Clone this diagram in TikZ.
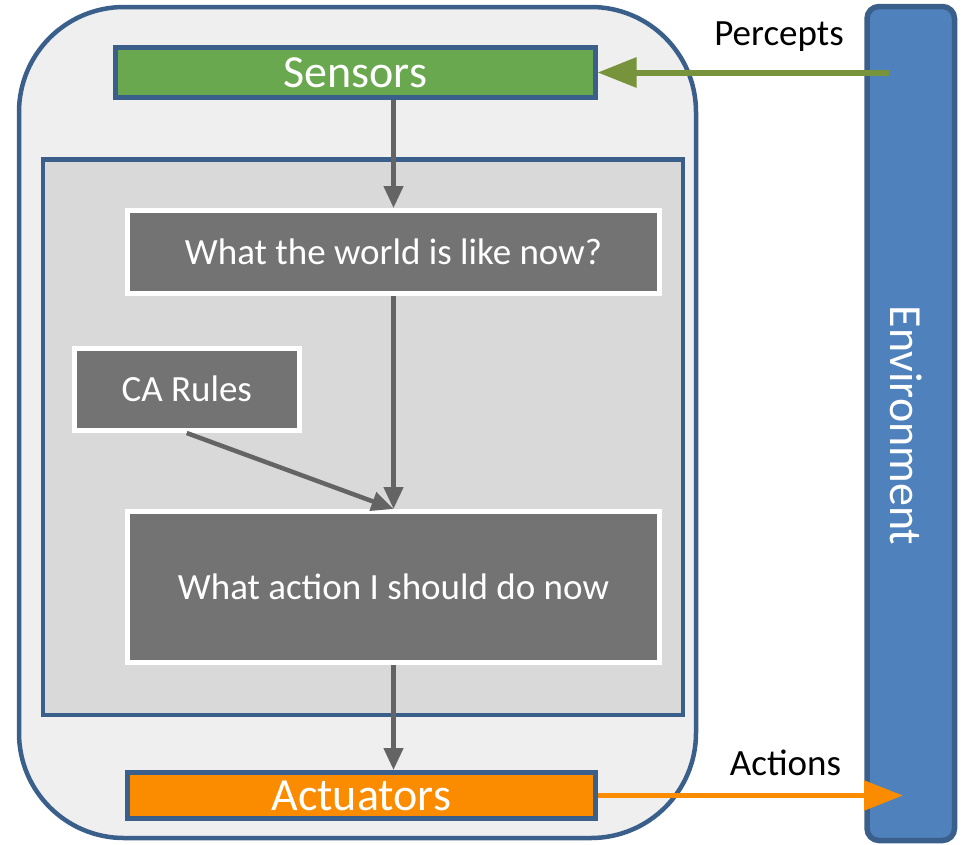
\documentclass[tikz,border=0pt]{standalone}
\usepackage{fontspec}
\setmainfont{Carlito}
\usetikzlibrary{arrows.meta}
\definecolor{bordblue}{HTML}{3A5F8B}
\definecolor{outerfill}{HTML}{EFEFEF}
\definecolor{innerfill}{HTML}{D9D9D9}
\definecolor{boxgray}{HTML}{737373}
\definecolor{sensgreen}{HTML}{6AA84F}
\definecolor{actorange}{HTML}{FB8C00}
\definecolor{envblue}{HTML}{4F81BD}
\definecolor{percol}{HTML}{77933C}
\definecolor{arrgray}{HTML}{646464}
\tikzset{
  every node/.style={inner sep=0pt},
  bigtext/.style={font=\fontsize{46}{50}\selectfont, text=white},
  bodytext/.style={font=\fontsize{37}{40}\selectfont},
  bar/.style={draw=bordblue, line width=5pt},
  graybox/.style={draw=white, line width=5pt, fill=boxgray, text=white, bodytext},
  grayarrow/.style={draw=arrgray, line width=4.5pt, -{Triangle[length=22pt,width=19pt]}},
  bigarrow/.style={line width=6pt, -{Triangle[length=39pt,width=29pt]}}
}
\begin{document}
\begin{tikzpicture}[x=1pt,y=-1pt]
\useasboundingbox (0,0) rectangle (961,844);
% agent container
\node (agent) [draw=bordblue, line width=4.5pt, fill=outerfill, rounded corners=105pt,
  minimum width=677pt, minimum height=831pt] at (357.5,422.5) {};
% inner processing area
\node (inner) [draw=bordblue, line width=4.5pt, fill=innerfill,
  minimum width=640pt, minimum height=555.5pt] at (363,437.25) {};
% sensors and actuators
\node (sensors) [bar, fill=sensgreen, minimum width=479.5pt, minimum height=50pt,
  bigtext] at (355.25,72.5) {Sensors};
\node (actuators) [bar, fill=actorange, minimum width=468.5pt, minimum height=46pt,
  bigtext] at (361.25,795.5) {Actuators};
% processing boxes
\node (world) [graybox, minimum width=532pt, minimum height=83pt] at (393.5,252) {What the world is like now?};
\node (ca) [graybox, minimum width=224.5pt, minimum height=82.5pt] at (186.75,389.25) {CA Rules};
\node (action) [graybox, minimum width=532pt, minimum height=151pt] at (393.5,587) {What action I should do now};
% environment
\node (env) [draw=bordblue, line width=5.5pt, fill=envblue, rounded corners=12pt,
  minimum width=87.5pt, minimum height=834pt] at (910.75,423.5) {};
\node (envtext) [bigtext, rotate=-90] at (906,425.5) {Environment};
% labels
\node (perlabel) [bodytext, anchor=base] at (779,45) {Percepts};
\node (actlabel) [bodytext, anchor=base] at (785.5,775) {Actions};
% connector endpoints in the environment
\coordinate (penv) at (889,72.5);
\coordinate (aenv) at (903,795.5);
% connectors
\draw[grayarrow] (world.north |- sensors.south) -- (world.north);
\draw[grayarrow] (world.south) -- (action.north);
\draw[grayarrow] (ca.south) -- (action.north);
\draw[grayarrow] (action.south) -- (action.south |- actuators.north);
\draw[bigarrow, draw=percol] (penv) -- (sensors.east);
\draw[bigarrow, draw=actorange, line width=5.5pt] (actuators.east) -- (aenv);
\end{tikzpicture}
\end{document}
